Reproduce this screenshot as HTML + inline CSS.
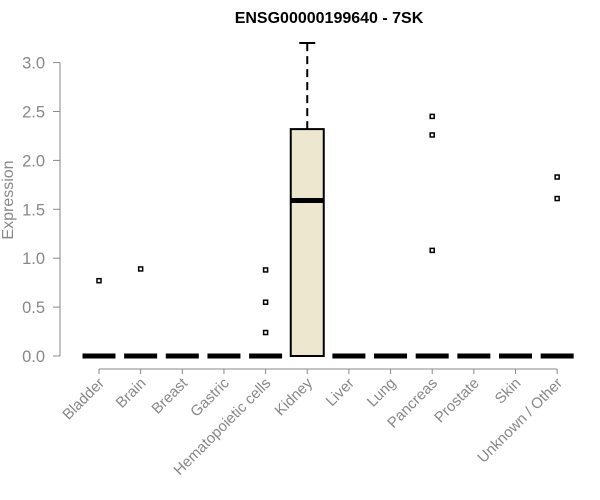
<!DOCTYPE html>
<html><head><meta charset="utf-8"><style>
body{margin:0;background:#fff;}
svg{display:block;font-family:"Liberation Sans",sans-serif;}
</style></head><body>
<svg width="600" height="500" viewBox="0 0 600 500" id="chart">
<text x="329" y="23" text-anchor="middle" font-weight="bold" font-size="16">ENSG00000199640 - 7SK</text>
<text transform="translate(13,200) rotate(-90)" text-anchor="middle" font-size="16" fill="#888">Expression</text>
<g id="yaxis"></g>
<g id="xaxis"></g>
<g id="boxes"></g>
</svg>
<script>
const categories=["Bladder","Brain","Breast","Gastric","Hematopoietic cells","Kidney","Liver","Lung","Pancreas","Prostate","Skin","Unknown / Other"];
const q1=[0,0,0,0,0,0,0,0,0,0,0,0];
const medians=[0,0,0,0,0,1.59,0,0,0,0,0,0];
const q3=[0,0,0,0,0,2.32,0,0,0,0,0,0];
const whiskerHigh=[0,0,0,0,0,3.2,0,0,0,0,0,0];
const outliers=[[0.77],[0.89],[],[],[0.88,0.55,0.24],[],[],[],[2.45,2.26,1.08],[],[],[1.83,1.61]];
const yTicks=[0,0.5,1,1.5,2,2.5,3];
const yTickLabels=["0.0","0.5","1.0","1.5","2.0","2.5","3.0"];
const NS="http://www.w3.org/2000/svg";
const y=v=>356-v*97.8;
const x=i=>99+i*41.65;
function mk(tag,attrs,parent){const e=document.createElementNS(NS,tag);for(const k in attrs)e.setAttribute(k,attrs[k]);parent.appendChild(e);return e;}
const ya=document.getElementById('yaxis'),xa=document.getElementById('xaxis'),bx=document.getElementById('boxes');
mk('line',{x1:60,x2:60,y1:y(3),y2:y(0),stroke:'#888'},ya);
yTicks.forEach((t,i)=>{
 const l=mk('line',{x1:53,x2:60,y1:y(t),y2:y(t),stroke:'#888'},ya);
 
 
 const tx=mk('text',{x:45,y:y(t)+6,'text-anchor':'end','font-size':16.5,fill:'#888'},ya);
 tx.textContent=yTickLabels[i];
 
 
});
mk('line',{x1:x(0),x2:x(categories.length-1),y1:369,y2:369,stroke:'#888'},xa);
categories.forEach((c,i)=>{
 const l=mk('line',{x1:x(i),x2:x(i),y1:369,y2:374,stroke:'#888'},xa);
 
 
 const tx=mk('text',{transform:`translate(${x(i)+6},384) rotate(-45)`,'text-anchor':'end','font-size':15,fill:'#888'},xa);
 tx.textContent=c;
 
 
 const g=mk('g',{},bx);
 
 
 const hw=16.5;
 if(whiskerHigh[i]>q3[i]){
  mk('line',{x1:x(i),x2:x(i),y1:y(q3[i]),y2:y(whiskerHigh[i]),stroke:'#000','stroke-width':2,'stroke-dasharray':'8,5'},g);
  mk('line',{x1:x(i)-8,x2:x(i)+8,y1:y(whiskerHigh[i]),y2:y(whiskerHigh[i]),stroke:'#000','stroke-width':2},g);
 }
 if(q3[i]>q1[i]) mk('rect',{x:x(i)-hw,y:y(q3[i]),width:2*hw,height:y(q1[i])-y(q3[i]),fill:'#ede7cf',stroke:'#000','stroke-width':2},g);
 mk('line',{x1:x(i)-hw,x2:x(i)+hw,y1:y(medians[i]),y2:y(medians[i]),stroke:'#000','stroke-width':5},g);
 outliers[i].forEach(v=>{
  const p=mk('rect',{x:x(i)-2,y:y(v)-2,width:4,height:4,fill:'#fff',stroke:'#000','stroke-width':1.5},g);
  
  
 });
});
</script>
</body></html>
